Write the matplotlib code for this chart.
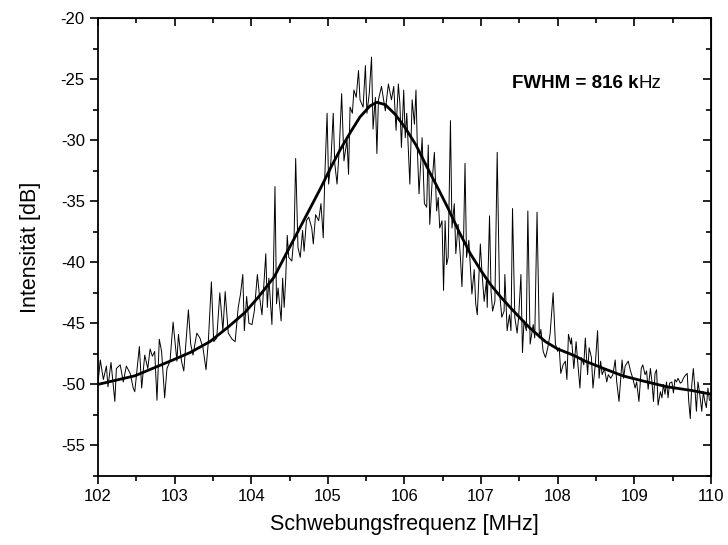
import matplotlib.pyplot as plt

freq_mhz = [
    102.00, 102.03, 102.07, 102.11, 102.13, 102.17, 102.22, 102.24, 102.29, 102.33,
    102.37, 102.42, 102.46, 102.48, 102.54, 102.57, 102.61, 102.65, 102.68, 102.71,
    102.74, 102.77, 102.80, 102.83, 102.87, 102.90, 102.94, 102.98,
    103.03, 103.05, 103.09, 103.12, 103.18, 103.21, 103.24, 103.29, 103.33, 103.37,
    103.41, 103.44, 103.48, 103.51, 103.55, 103.59, 103.63, 103.66, 103.70, 103.75,
    103.79, 103.83, 103.86, 103.89, 103.91, 103.94,
    103.97, 104.01, 104.04, 104.08, 104.11, 104.14, 104.19, 104.21, 104.23, 104.27,
    104.29, 104.31, 104.33, 104.35, 104.39, 104.41, 104.43, 104.45, 104.47, 104.49,
    104.53, 104.56, 104.58, 104.61, 104.64, 104.67, 104.69, 104.72, 104.75, 104.79,
    104.81, 104.84, 104.88, 104.91,
    104.94, 104.96, 104.99, 105.01, 105.04, 105.07, 105.09, 105.12, 105.15, 105.18,
    105.21, 105.25, 105.27, 105.29, 105.32, 105.34, 105.37, 105.40, 105.42, 105.46,
    105.49, 105.51, 105.54, 105.57, 105.59, 105.62, 105.64, 105.66, 105.70, 105.75,
    105.79, 105.83, 105.86, 105.89,
    105.92, 105.94, 105.96, 105.99, 106.01, 106.03, 106.07, 106.10, 106.13, 106.15,
    106.17, 106.19, 106.23, 106.26, 106.29, 106.31, 106.33, 106.36, 106.39, 106.42,
    106.44, 106.46, 106.49, 106.51, 106.53, 106.55, 106.57, 106.60, 106.62, 106.65,
    106.67, 106.70, 106.73, 106.75, 106.77, 106.79, 106.81, 106.84,
    106.88, 106.91, 106.93, 106.95, 106.99, 107.01, 107.04, 107.07, 107.08, 107.11,
    107.13, 107.15, 107.18, 107.21, 107.24, 107.27, 107.30, 107.31, 107.34, 107.37,
    107.39, 107.41, 107.44, 107.47, 107.49, 107.52, 107.54, 107.56, 107.59, 107.61,
    107.64, 107.66, 107.68, 107.70, 107.73, 107.76, 107.78, 107.81, 107.84, 107.87,
    107.90,
    107.94, 107.97, 108.00, 108.02, 108.04, 108.07, 108.10, 108.12, 108.14, 108.17,
    108.18, 108.21, 108.24, 108.26, 108.29, 108.31, 108.34, 108.36, 108.39, 108.41,
    108.44, 108.46, 108.49, 108.52, 108.54, 108.56, 108.58, 108.61, 108.64, 108.66,
    108.69, 108.72, 108.75, 108.77, 108.80,
    108.84, 108.86, 108.88, 108.92, 108.95, 108.98, 109.01, 109.03, 109.06, 109.09,
    109.11, 109.14, 109.16, 109.18, 109.21, 109.23, 109.25, 109.27, 109.29, 109.31,
    109.34, 109.36, 109.38, 109.40, 109.42, 109.44, 109.46, 109.49, 109.51, 109.53,
    109.55, 109.57, 109.60, 109.62, 109.64, 109.66, 109.69, 109.71, 109.73, 109.75,
    109.77, 109.79, 109.81, 109.83, 109.85, 109.88, 109.90, 109.92, 109.94, 109.96,
    109.98,
]
level_db = [
    -49.9, -48.0, -49.6, -48.5, -50.2, -48.2, -51.4, -48.7, -48.4, -49.8,
    -48.5, -49.1, -50.3, -50.6, -46.9, -50.3, -47.6, -48.7, -47.1, -47.7,
    -47.3, -51.3, -46.3, -47.3, -51.1, -48.7, -48.1, -44.9,
    -48.1, -45.9, -48.1, -48.9, -43.9, -46.7, -47.6, -45.8, -46.2, -47.0,
    -48.8, -46.5, -41.6, -46.5, -46.2, -42.5, -45.6, -42.4, -45.8, -46.3,
    -46.5, -43.7, -42.6, -41.0, -45.6, -42.8,
    -45.0, -45.1, -44.0, -41.0, -42.9, -44.3, -39.3, -43.7, -41.3, -45.1,
    -40.4, -33.8, -43.4, -42.1, -44.8, -41.3, -43.7, -41.3, -37.8, -39.6,
    -39.9, -37.7, -31.5, -38.8, -39.6, -37.4, -39.1, -36.6, -36.3, -37.2,
    -38.5, -36.1, -36.6, -35.2,
    -38.0, -33.0, -27.8, -33.6, -31.7, -27.8, -31.9, -33.6, -30.6, -26.2,
    -31.7, -30.0, -32.8, -27.3, -27.8, -25.9, -26.5, -24.3, -26.7, -27.3,
    -23.9, -27.8, -26.2, -23.2, -29.1, -26.5, -31.1, -26.7, -25.6, -27.6,
    -25.4, -26.7, -25.6, -29.2,
    -25.4, -27.0, -30.6, -25.9, -29.8, -27.8, -33.6, -26.7, -28.7, -25.9,
    -31.1, -34.4, -29.8, -35.2, -35.5, -30.4, -36.9, -33.5, -31.0, -35.8,
    -34.7, -37.2, -36.6, -42.3, -36.6, -40.2, -39.6, -28.4, -37.2, -35.2,
    -39.3, -36.9, -39.6, -42.0, -38.5, -31.9, -39.6, -38.2,
    -42.6, -40.6, -43.4, -44.3, -38.5, -40.7, -43.2, -41.5, -43.7, -36.2,
    -42.4, -44.0, -43.2, -31.0, -42.4, -44.5, -44.0, -41.0, -45.6, -44.3,
    -45.6, -35.6, -44.5, -45.8, -44.5, -41.0, -47.4, -44.8, -45.6, -35.8,
    -46.7, -45.9, -45.1, -46.2, -35.9, -46.2, -45.5, -47.3, -47.8, -47.0,
    -45.9,
    -42.5, -46.7, -47.3, -47.0, -49.1, -48.4, -48.1, -49.6, -45.9, -46.7,
    -46.2, -48.7, -46.5, -48.1, -50.3, -47.8, -48.4, -46.2, -49.2, -47.0,
    -47.8, -50.3, -48.4, -45.6, -49.5, -48.1, -49.2, -48.7, -49.8, -49.2,
    -49.5, -49.2, -48.0, -49.8, -51.4,
    -48.0, -49.5, -48.5, -48.1, -48.9, -49.5, -50.3, -49.8, -51.4, -48.7,
    -48.4, -49.2, -48.9, -50.4, -48.7, -49.8, -51.4, -49.1, -48.8, -51.7,
    -50.6, -51.1, -50.0, -50.8, -49.8, -51.1, -49.9, -49.8, -50.7, -49.6,
    -49.8, -49.5, -49.9, -49.8, -49.5, -49.3, -49.1, -51.4, -52.8, -50.0,
    -48.7, -50.3, -52.2, -49.8, -50.6, -52.2, -50.6, -51.4, -51.9, -50.3,
    -51.3,
]

# Fit-Kurve
fit_mhz = [102.0, 102.48, 102.94, 103.2, 103.46, 103.7, 103.92, 104.1, 104.3, 104.44,
           104.6, 104.75, 104.9, 105.05, 105.16, 105.3, 105.42, 105.55, 105.64, 105.75,
           105.88, 106.0, 106.15, 106.31, 106.45, 106.57, 106.72, 106.86, 107.0, 107.12,
           107.25, 107.38, 107.5, 107.64, 107.84, 108.0, 108.2, 108.36, 108.6, 108.85,
           109.1, 109.43, 109.75, 110.0]
fit_db = [-50.0, -49.3, -48.1, -47.4, -46.5, -45.3, -44.1, -42.8, -41.2, -39.5,
          -37.6, -35.8, -34.0, -32.1, -30.8, -29.3, -28.1, -27.2, -26.9, -27.1,
          -27.9, -28.9, -30.4, -32.4, -34.1, -35.6, -37.6, -39.3, -40.7, -41.8,
          -42.8, -43.7, -44.5, -45.4, -46.5, -47.1, -47.6, -48.1, -48.7, -49.3,
          -49.7, -50.2, -50.5, -50.8]

plt.rcParams['font.family'] = ['Liberation Sans', 'DejaVu Sans']
plt.rcParams['axes.unicode_minus'] = False

fig = plt.figure(figsize=(7.28, 5.45), dpi=100)
ax = fig.add_axes([0.1346, 0.1266, 0.8420, 0.8404])

ax.plot(freq_mhz, level_db, color='black', linewidth=0.7)
ax.plot(fit_mhz, fit_db, color='black', linewidth=2.0)

ax.set_xlim(102, 110)
ax.set_ylim(-57.5, -20)
ax.set_xticks(range(102, 111))
ax.set_xticks([102.5 + i for i in range(8)], minor=True)
ax.set_yticks(range(-55, -19, 5))
ax.set_yticks([-57.5 + 5 * i for i in range(8)], minor=True)

ax.tick_params(which='major', direction='out', length=6, width=1.2, labelsize=12)
ax.tick_params(which='minor', direction='out', length=3.5, width=1.2)
for s in ax.spines.values():
    s.set_linewidth(1.3)

# Ticks oben und rechts nach innen
top = ax.secondary_xaxis('top')
top.set_xticks(range(102, 111))
top.set_xticks([102.5 + i for i in range(8)], minor=True)
top.tick_params(which='major', direction='in', length=6, width=1.2, labeltop=False)
top.tick_params(which='minor', direction='in', length=3.5, width=1.2)
right = ax.secondary_yaxis('right')
right.set_yticks(range(-55, -19, 5))
right.set_yticks([-57.5 + 5 * i for i in range(8)], minor=True)
right.tick_params(which='major', direction='in', length=6, width=1.2, labelright=False)
right.tick_params(which='minor', direction='in', length=3.5, width=1.2)

ax.set_xlabel('Schwebungsfrequenz [MHz]', fontsize=15.5, labelpad=7)
ax.set_ylabel('Intensität [dB]', fontsize=15.5, labelpad=14)

ax.text(109.05, -25.75, 'FWHM = 816 k', fontsize=13.5, fontweight='bold',
        ha='right', va='baseline')
ax.text(109.05, -25.75, 'Hz', fontsize=13.5, ha='left', va='baseline')

fig.savefig('out.png', dpi=100)
